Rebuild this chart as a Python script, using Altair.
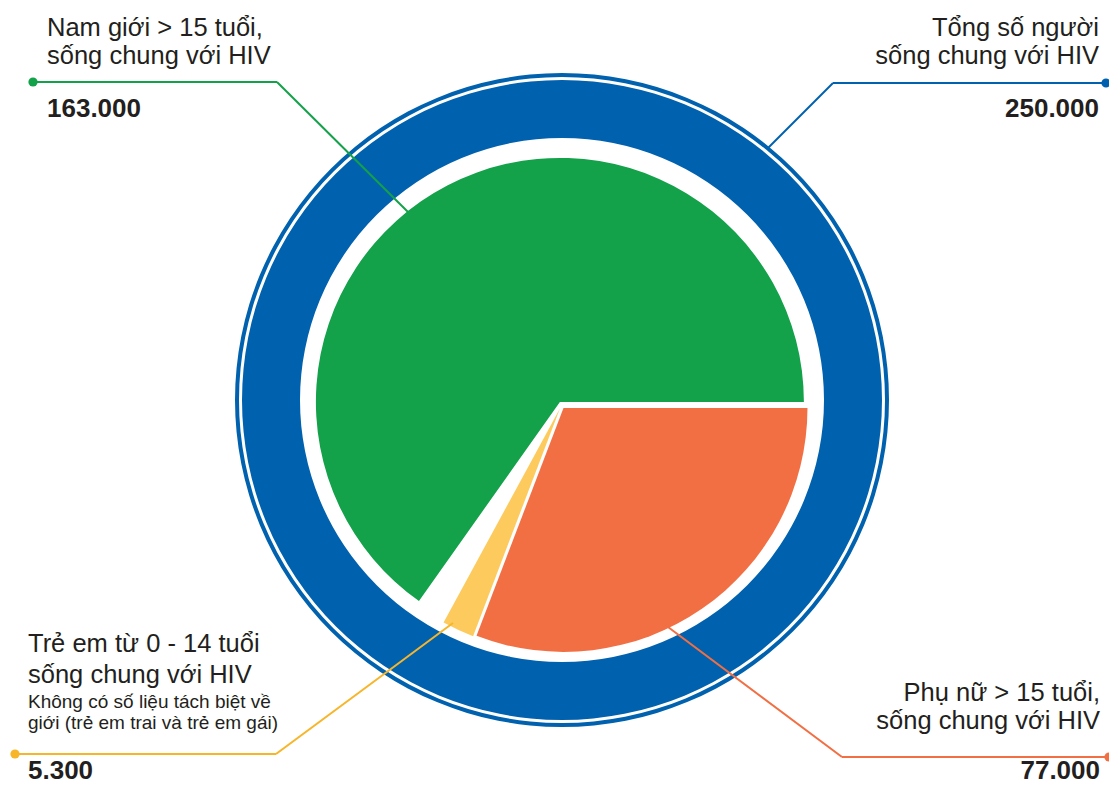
import math
import altair as alt
import pandas as pd

# ---------------- data ----------------
total_label = ["Tổng số người", "sống chung với HIV"]
total_value = 250000

slice_keys = ["nu", "tre", "khac", "nam"]
slice_values = [77000, 5300, None, 163000]  # "khac" = total minus known groups
known = [v for v in slice_values if v is not None]
slice_values = [v if v is not None else total_value - sum(known) for v in slice_values]
slice_show = [True, True, False, True]

label_nam = ["Nam giới > 15 tuổi,", "sống chung với HIV"]
label_nu = ["Phụ nữ > 15 tuổi,", "sống chung với HIV"]
label_tre = ["Trẻ em từ 0 - 14 tuổi", "sống chung với HIV"]
note_tre = ["Không có số liệu tách biệt về", "giới (trẻ em trai và trẻ em gái)"]


def fmt(v):
    return f"{v:,}".replace(",", ".")


# ---------------- style ----------------
BLUE = "#0061AF"
GREEN = "#13A14A"
ORANGE = "#F26F43"
YELLOW = "#FDCA5D"
YELLOW_LINE = "#F7B52A"
TEXT = "#231F20"
FONT = "Liberation Sans"

W, H = 1101, 777
RING_C = (554, 392)
PIE_C = (553.5, 397)
PIE_R = 244
EXPLODE = 3.5
LBL = 25.5

one = pd.DataFrame({"a": [0]})

pie_df = pd.DataFrame({
    "key": slice_keys,
    "value": slice_values,
    "order": list(range(len(slice_keys))),
    "show": slice_show,
})

ring = alt.Chart(one).mark_arc(color=BLUE).encode(
    x=alt.value(RING_C[0]), y=alt.value(RING_C[1]),
    theta=alt.value(0), theta2=alt.value(2 * math.pi),
    radius=alt.value(320), radius2=alt.value(262),
)
ring_thin = alt.Chart(one).mark_arc(color=BLUE).encode(
    x=alt.value(RING_C[0]), y=alt.value(RING_C[1]),
    theta=alt.value(0), theta2=alt.value(2 * math.pi),
    radius=alt.value(327), radius2=alt.value(323),
)

pie = (
    alt.Chart(pie_df)
    .transform_window(cum="sum(value)", sort=[alt.SortField("order")], frame=[None, 0])
    .transform_calculate(
        start="datum.cum - datum.value",
        mid=f"PI/2 + 2*PI*(datum.cum - datum.value/2)/{total_value}",
    )
    .transform_calculate(
        px=f"{PIE_C[0]} + {EXPLODE}*sin(datum.mid)",
        py=f"{PIE_C[1]} - {EXPLODE}*cos(datum.mid)",
    )
    .transform_filter("datum.show")
    .mark_arc(radius=PIE_R)
    .encode(
        theta=alt.Theta("start:Q", stack=False,
                        scale=alt.Scale(domain=[0, total_value],
                                        range=[math.pi / 2, math.pi / 2 + 2 * math.pi])),
        theta2="cum:Q",
        x=alt.X("px:Q", scale=None, axis=None),
        y=alt.Y("py:Q", scale=None, axis=None),
        color=alt.Color("key:N", legend=None,
                        scale=alt.Scale(domain=["nu", "tre", "nam"],
                                        range=[ORANGE, YELLOW, GREEN])),
    )
)


def rule(x1, y1, x2, y2, color):
    return alt.Chart(one).mark_rule(color=color, strokeWidth=2).encode(
        x=alt.value(x1), y=alt.value(y1), x2=alt.value(x2), y2=alt.value(y2))


def dot(x, y, color):
    return alt.Chart(one).mark_circle(color=color, size=85, opacity=1).encode(
        x=alt.value(x), y=alt.value(y))


def connector(pts, color):
    layers = [rule(*pts[i], *pts[i + 1], color) for i in range(len(pts) - 1)]
    layers.append(dot(*pts[0], color))
    return layers


def txt(s, x, y, align="left", size=LBL, weight="normal"):
    return alt.Chart(one).mark_text(
        align=align, baseline="alphabetic", font=FONT, fontSize=size,
        fontWeight=weight, color=TEXT,
    ).encode(x=alt.value(x), y=alt.value(y), text=alt.value(s))


layers = [ring, ring_thin, pie]
layers += connector([(25, 74), (269, 74), (400, 204)], GREEN)
layers += connector([(1098, 75), (825, 75), (760, 140)], BLUE)
layers += connector([(7, 746), (268, 746), (445, 615)], YELLOW_LINE)
layers += connector([(1101, 749), (834, 749), (660, 619)], ORANGE)

# top-left: nam
layers += [txt(label_nam[0], 39, 28), txt(label_nam[1], 39, 56),
           txt(fmt(slice_values[3]), 39, 109, size=26, weight="bold")]
# top-right: total
layers += [txt(total_label[0], 1091, 28, align="right"),
           txt(total_label[1], 1091, 56, align="right"),
           txt(fmt(total_value), 1091, 109, align="right", size=26, weight="bold")]
# bottom-left: tre em
layers += [txt(label_tre[0], 20, 644), txt(label_tre[1], 20, 675),
           txt(note_tre[0], 20, 700, size=19), txt(note_tre[1], 20, 721, size=19),
           txt(fmt(slice_values[1]), 20, 771, size=26, weight="bold")]
# bottom-right: nu
layers += [txt(label_nu[0], 1092, 693, align="right"),
           txt(label_nu[1], 1092, 721, align="right"),
           txt(fmt(slice_values[0]), 1092, 771, align="right", size=26, weight="bold")]

chart = alt.layer(*layers).properties(
    width=W, height=H, padding=0, autosize="none", background="white"
).configure_view(stroke=None)

chart.save("out.html", embed_options={"renderer": "svg", "actions": False})
